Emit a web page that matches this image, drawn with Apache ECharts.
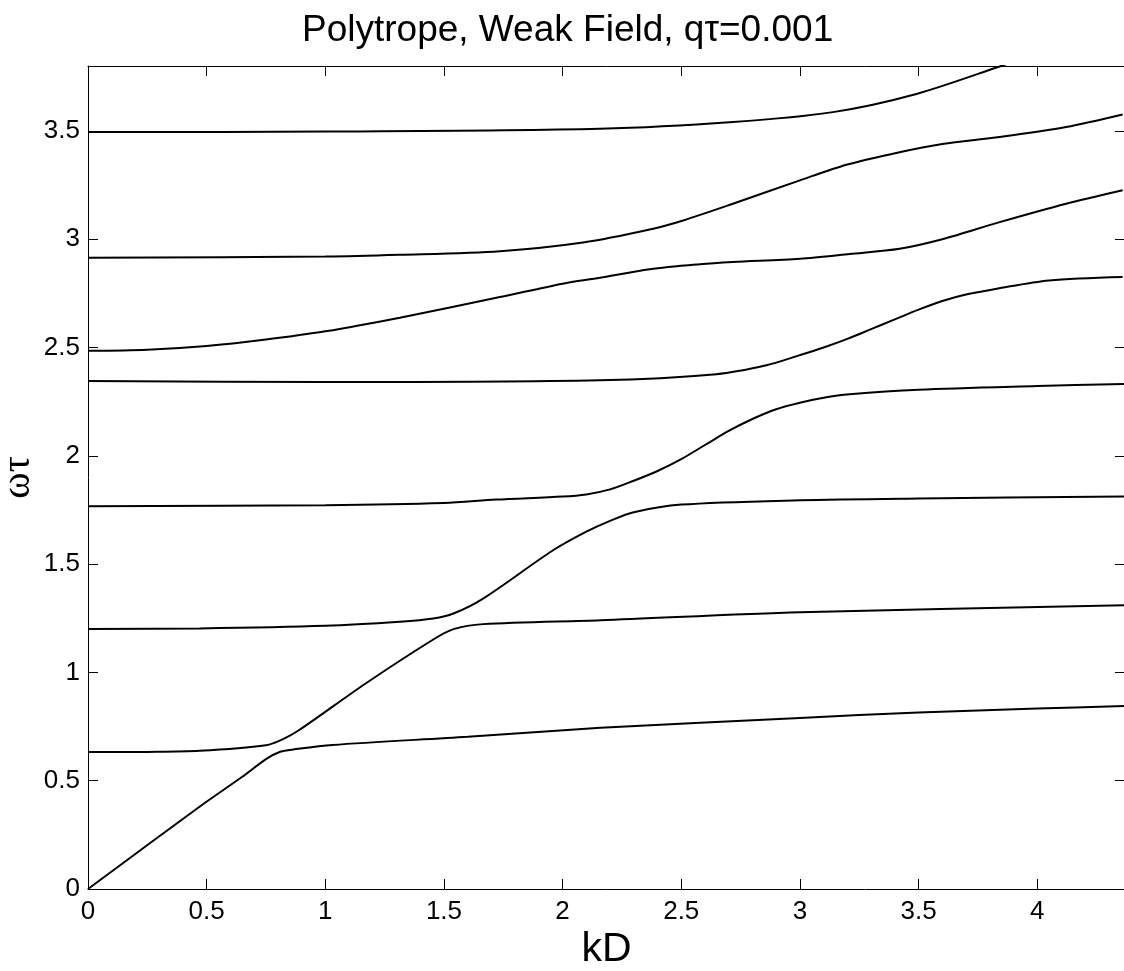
<!DOCTYPE html>
<html>
<head>
<meta charset="utf-8">
<script src="https://cdn.jsdelivr.net/npm/echarts@6/dist/echarts.min.js"></script>
<style>
  html, body { margin: 0; padding: 0; background: #fff; }
  #chart { width: 1124px; height: 971px; }
</style>
</head>
<body>
<div id="chart"></div>
<script>
// dispersion branches, kD vs omega*tau
const kD1 = [0, 0.47, 0.65, 0.75, 0.81, 0.87, 1.03, 1.6, 2.16, 3.0, 3.5, 4.0, 4.37]
const w1 = [0, 0.38, 0.518, 0.6, 0.634, 0.645, 0.665, 0.703, 0.744, 0.79, 0.815, 0.833, 0.845]

const kD2 = [0, 0.25, 0.47, 0.75, 0.82, 0.89, 1.17, 1.455, 1.54, 1.665, 2.16, 3.0, 4.37]
const w2 = [0.632, 0.633, 0.638, 0.664, 0.691, 0.734, 0.949, 1.152, 1.2, 1.223, 1.241, 1.278, 1.31]

const kD3 = [0, 0.47, 1.0, 1.314, 1.455, 1.54, 1.665, 1.96, 2.1, 2.2, 2.3, 2.5, 3.0, 3.5, 4.37]
const w3 = [1.2, 1.203, 1.215, 1.234, 1.249, 1.272, 1.341, 1.564, 1.65, 1.7, 1.74, 1.775, 1.795, 1.803, 1.812]

const kD4 = [0, 1.0, 1.5, 1.72, 2.0, 2.1, 2.2, 2.3, 2.4, 2.5, 2.6, 2.7, 2.8, 2.9, 3.0, 3.1, 3.21, 3.5, 4.0, 4.37]
const w4 = [1.767, 1.772, 1.782, 1.798, 1.812, 1.822, 1.845, 1.885, 1.93, 1.985, 2.05, 2.115, 2.17, 2.215, 2.245, 2.268, 2.284, 2.305, 2.322, 2.332]

const kD5 = [0, 1.0, 2.157, 2.648, 2.859, 3.0, 3.1, 3.2, 3.3, 3.4, 3.5, 3.6, 3.7, 3.83, 4.05, 4.36]
const w5 = [2.345, 2.341, 2.349, 2.377, 2.418, 2.465, 2.5, 2.54, 2.585, 2.63, 2.675, 2.715, 2.745, 2.772, 2.81, 2.826]

const kD6 = [0, 0.25, 0.5, 0.75, 1.0, 1.314, 1.736, 2.0, 2.157, 2.367, 2.578, 2.718, 3.0, 3.21, 3.42, 3.6, 3.842, 4.122, 4.36]
const w6 = [2.485, 2.49, 2.507, 2.537, 2.575, 2.638, 2.733, 2.795, 2.822, 2.862, 2.885, 2.895, 2.91, 2.932, 2.956, 3.0, 3.079, 3.164, 3.226]

const kD7 = [0, 1.0, 1.314, 1.736, 2.086, 2.367, 2.508, 2.718, 3.0, 3.2, 3.42, 3.6, 3.842, 4.122, 4.36]
const w7 = [2.915, 2.92, 2.928, 2.945, 2.985, 3.045, 3.087, 3.164, 3.272, 3.345, 3.402, 3.44, 3.472, 3.518, 3.576]

const kD8 = [0, 1.0, 2.157, 2.718, 3.139, 3.491, 3.842, 3.95]
const w8 = [3.495, 3.497, 3.51, 3.541, 3.587, 3.671, 3.798, 3.84]

const branches = [[kD1, w1], [kD2, w2], [kD3, w3], [kD4, w4], [kD5, w5], [kD6, w6], [kD7, w7], [kD8, w8]]

const font = 'Liberation Sans'
const black = '#000'

const chart = echarts.init(document.getElementById('chart'))

function boxAxis(pos, extra) {
  return Object.assign({
    type: 'value',
    position: pos,
    interval: 0.5,
    axisLine: { show: true, onZero: false, lineStyle: { color: black, width: 1 } },
    axisTick: { show: true, inside: true, length: 10, lineStyle: { color: black, width: 1 } },
    axisLabel: { show: false },
    splitLine: { show: false }
  }, extra)
}

const option = {
  backgroundColor: '#fff',
  animation: false,
  title: {
    text: 'Polytrope, Weak Field, qτ=0.001',
    left: 297,
    top: 7,
    textStyle: { fontFamily: font, fontSize: 37, fontWeight: 'normal', color: black }
  },
  grid: { left: 88, right: -1, top: 66, bottom: 82, outerBoundsMode: 'none', containLabel: false },
  xAxis: [
    boxAxis('bottom', {
      min: 0, max: 4.37,
      name: 'kD', nameLocation: 'middle', nameGap: 40, nameMoveOverlap: false,
      nameTextStyle: { fontFamily: font, fontSize: 41, color: black },
      axisLabel: { show: true, showMaxLabel: false, margin: 10, fontFamily: font, fontSize: 26, color: black }
    }),
    boxAxis('top', { min: 0, max: 4.37 })
  ],
  yAxis: [
    boxAxis('left', {
      min: 0, max: 3.8,
      name: 'ωτ', nameLocation: 'middle', nameRotate: 90, nameGap: 50, nameMoveOverlap: false,
      nameTextStyle: { fontFamily: 'Liberation Serif', fontSize: 40, color: black },
      axisLabel: { show: true, showMaxLabel: false, margin: 8, fontFamily: font, fontSize: 26, color: black }
    }),
    boxAxis('right', { min: 0, max: 3.8 })
  ],
  series: branches.map(([xs, ys]) => ({
    type: 'line',
    xAxisIndex: 0,
    yAxisIndex: 0,
    showSymbol: false,
    smooth: 0.3,
    clip: true,
    lineStyle: { color: black, width: 2 },
    data: xs.map((x, i) => [x, ys[i]])
  }))
}

chart.setOption(option)
</script>
</body>
</html>
